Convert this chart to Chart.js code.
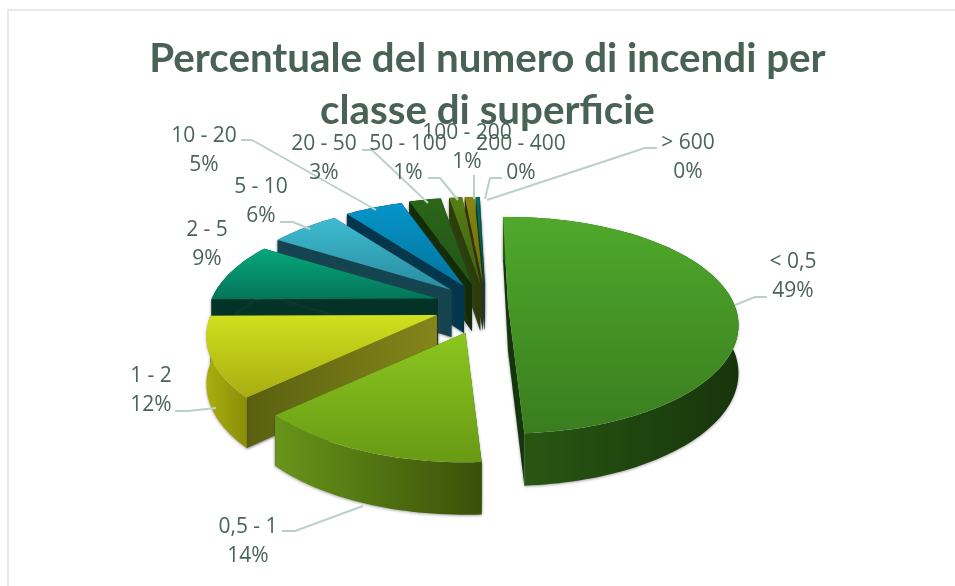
<!DOCTYPE html>
<html><head><meta charset="utf-8">
<style>html,body{margin:0;padding:0;background:#fff;overflow:hidden}
#frame{position:absolute;left:7px;top:9px;width:948px;height:577px;border-top:2px solid #e6ebe9;border-left:2px solid #e6ebe9;box-sizing:border-box}
#wrap{position:absolute;left:0;top:0;width:955px;height:586px}</style>
<script src="https://cdn.jsdelivr.net/npm/chart.js@4"></script>
</head><body><div id="frame"></div><div id="wrap"><canvas id="c" width="955" height="586"></canvas></div>
<script>
const categories = ['< 0,5','0,5 - 1','1 - 2','2 - 5','5 - 10','10 - 20','20 - 50','50 - 100','100 - 200','200 - 400','> 600'];
const shares = [49.49,13.9,11.9,9.0,5.9,4.9,2.7,1.1,0.8,0.25,0.06];
const explodeOffsets = [22,56,53,50,47,47,57,44,44,44,44];
const topColors = ['#4fa92b','#8cc71f','#d0e01f','#06a87c','#3ebcd2','#0695ca','#2b6618','#567e14','#87870f','#006f5f','#00796d'];
const bottomColors = ['#3a7d1f','#689a14','#a8ad10','#047458','#2a8c9f','#02749c','#215518','#3f6010','#6a6a08','#005a4c','#006055'];
const wallLight = ['#2a5a13','#68951a','#a9ae10','#033327','#14444f','#01364d','#122c08','#2b3e0a','#2f300a','#00362e','#00362e'];
const wallDark = ['#17350b','#3a5009','#8a8e08','#033327','#14444f','#01364d','#122c08','#2b3e0a','#2f300a','#00362e','#00362e'];
const cutColors = ['#17350b','#3a5009','#6d7012','#033327','#14444f','#01364d','#122c08','#2b3e0a','#2f300a','#00362e','#00362e'];
const titleLines = ['Percentuale del numero di incendi per','classe di superficie'];

const labelCenters = [[793,262],[248,527],[151,376],[207,230],[261,187],[204,136],[324,144],[408,144],[467,133],[521,144],[688,143]];
const leaders = [
  [[767,297],[755,297],[735,305]],
  [[282,531],[295,531],[363,506]],
  [[175,411],[188,411],[216,408]],
  [],
  [[280,222],[293,222],[310,229]],
  [[241,140],[252,140],[376,210]],
  [[362,150],[372,150],[428,203]],
  [[428,178],[440,178],[458,200]],
  [[474,175],[474,199]],
  [[502,178],[490,178],[485,199]],
  [[657,148],[645,148],[487,200]]
];
const view = {cx:486, cy:305, radius:226, flat:104, persp:0.197, depth:47, explodeY:25, explodePersp:0.176};

function pf(Y){return 1/(1-view.persp*Y);}
function rimPoint(a, ang){ // chart angles: -PI/2 is the top
  const X=Math.cos(ang), Y=Math.sin(ang), p=pf(Y);
  return {x:a.x+view.radius*X*p, y:a.y+view.flat*Y*p, d:view.depth*Math.sqrt(p)};
}
function apexOf(arc){
  const mid=(arc.startAngle+arc.endAngle)/2, X=Math.cos(mid), Y=Math.sin(mid);
  return {x:view.cx+arc.options.offset*X, y:view.cy+view.explodeY*Y/(1-view.explodePersp*Y)};
}
const pie3d = {
  id:'pie3d',
  beforeDatasetsDraw(chart){
    const ctx=chart.ctx, arcs=chart.getDatasetMeta(0).data;
    const order=arcs.map((_,i)=>i).slice(2).reverse().concat([1,0]);
    for(const i of order){
      const arc=arcs[i], a=apexOf(arc), n=Math.max(4,Math.ceil((arc.endAngle-arc.startAngle)*40));
      const rim=[]; for(let s=0;s<=n;s++) rim.push(rimPoint(a,arc.startAngle+(arc.endAngle-arc.startAngle)*s/n));
      const first=rim[0], last=rim[n], ad=view.depth;
      ctx.save();
      ctx.shadowColor='rgba(60,60,60,0.45)'; ctx.shadowBlur=3; ctx.shadowOffsetY=1;
      ctx.fillStyle=cutColors[i];
      for(const e of [first,last]){
        ctx.beginPath(); ctx.moveTo(a.x,a.y); ctx.lineTo(e.x,e.y); ctx.lineTo(e.x,e.y+e.d); ctx.lineTo(a.x,a.y+ad); ctx.closePath(); ctx.fill();
      }
      if(i===2){
        const g=ctx.createLinearGradient(a.x,0,first.x,0); g.addColorStop(0,'#84861a'); g.addColorStop(1,'#5a6010');
        ctx.fillStyle=g; ctx.beginPath(); ctx.moveTo(a.x,a.y); ctx.lineTo(first.x,first.y); ctx.lineTo(first.x,first.y+first.d); ctx.lineTo(a.x,a.y+ad); ctx.closePath(); ctx.fill();
      }
      const xs=rim.map(p=>p.x), minX=Math.min(...xs), maxX=Math.max(...xs);
      const wg=ctx.createLinearGradient(minX,0,maxX,0); wg.addColorStop(0,wallLight[i]); wg.addColorStop(1,wallDark[i]);
      ctx.fillStyle=wg; ctx.beginPath();
      rim.forEach((p,s)=>s?ctx.lineTo(p.x,p.y):ctx.moveTo(p.x,p.y));
      for(let s=n;s>=0;s--) ctx.lineTo(rim[s].x,rim[s].y+rim[s].d);
      ctx.closePath(); ctx.fill();
      ctx.restore();
      const ys=rim.map(p=>p.y).concat(a.y), tg=ctx.createLinearGradient(0,Math.min(...ys),0,Math.max(...ys));
      tg.addColorStop(0,topColors[i]); tg.addColorStop(1,bottomColors[i]);
      ctx.fillStyle=tg; ctx.beginPath(); ctx.moveTo(a.x,a.y); rim.forEach(p=>ctx.lineTo(p.x,p.y)); ctx.closePath(); ctx.fill();
    }
    return false;
  },
  afterDraw(chart){
    const ctx=chart.ctx;
    ctx.save();
    ctx.strokeStyle='#bcd0ca'; ctx.lineWidth=2; ctx.lineJoin='round';
    leaders.forEach(l=>{ if(!l.length) return; ctx.beginPath(); l.forEach((p,s)=>s?ctx.lineTo(p[0],p[1]):ctx.moveTo(p[0],p[1])); ctx.stroke(); });
    ctx.fillStyle='#4a6558'; ctx.font='21px "Open Sans"'; ctx.textAlign='center'; ctx.textBaseline='middle';
    categories.forEach((c,i)=>{
      const [x,y]=labelCenters[i];
      ctx.fillText(c,x,y); ctx.fillText(Math.round(shares[i])+'%',x,y+29);
    });
    ctx.restore();
  }
};
new Chart(document.getElementById('c'),{
  type:'pie',
  data:{labels:categories,datasets:[{data:shares,backgroundColor:topColors,borderWidth:0,offset:explodeOffsets}]},
  options:{
    responsive:false,animation:false,rotation:-1.5,
    layout:{padding:{top:20,left:20}},
    plugins:{
      legend:{display:false},tooltip:{enabled:false},
      title:{display:true,text:titleLines,color:'#486356',padding:{top:13,bottom:0},
        font:{family:'Lato',size:40.3,weight:'bold',lineHeight:1.29}}
    }
  },
  plugins:[pie3d]
});
</script></body></html>
